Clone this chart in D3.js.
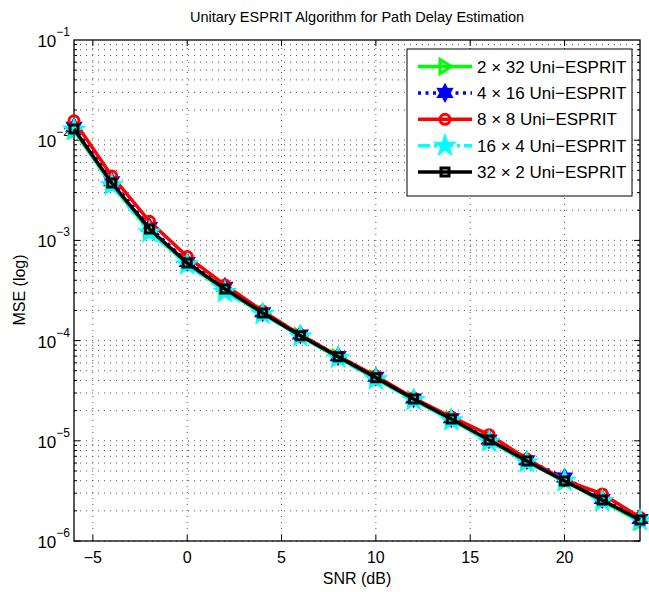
<!DOCTYPE html>
<html lang="en">
<head>
<meta charset="UTF-8">
<title>Unitary ESPRIT Algorithm for Path Delay Estimation</title>
<script src="https://cdn.jsdelivr.net/npm/d3@7"></script>
<style>
    body { margin: 0; background: #fff; }
    svg { font-family: "Liberation Sans", Arial, sans-serif; }
    line.grid { stroke: #555; stroke-width: 1; stroke-dasharray: 1, 5; }
    line.tick { stroke: #000; stroke-width: 1; }
    path.series { fill: none; stroke-width: 3.5; stroke-linejoin: round; }
</style>
</head>
<body>
<svg width="649" height="592"></svg>
<script>
    var snr = [-6, -4, -2, 0, 2, 4, 6, 8, 10, 12, 14, 16, 18, 20, 22, 24];
    var mse2x32 = [1.25e-2, 3.62e-3, 1.26e-3, 5.8e-4, 3.2e-4, 1.86e-4, 1.11e-4, 6.8e-5, 4.2e-5, 2.57e-5, 1.62e-5, 1.0e-5, 6.2e-6, 3.95e-6, 2.5e-6, 1.56e-6];
    var mse4x16 = [1.36e-2, 3.9e-3, 1.36e-3, 6.1e-4, 3.45e-4, 1.92e-4, 1.15e-4, 7.0e-5, 4.35e-5, 2.64e-5, 1.68e-5, 1.03e-5, 6.4e-6, 4.3e-6, 2.62e-6, 1.66e-6];
    var mse8x8 = [1.56e-2, 4.4e-3, 1.55e-3, 6.9e-4, 3.59e-4, 1.97e-4, 1.14e-4, 7.0e-5, 4.43e-5, 2.67e-5, 1.73e-5, 1.15e-5, 6.58e-6, 4.06e-6, 2.95e-6, 1.72e-6];
    var mse16x4 = [1.27e-2, 3.55e-3, 1.2e-3, 5.75e-4, 3.05e-4, 1.84e-4, 1.1e-4, 6.7e-5, 4.1e-5, 2.55e-5, 1.6e-5, 9.8e-6, 6.1e-6, 4.0e-6, 2.5e-6, 1.6e-6];
    var mse32x2 = [1.29e-2, 3.74e-3, 1.3e-3, 5.95e-4, 3.27e-4, 1.89e-4, 1.12e-4, 6.9e-5, 4.27e-5, 2.61e-5, 1.65e-5, 1.02e-5, 6.29e-6, 3.97e-6, 2.56e-6, 1.62e-6];

    var seriesNames = ["2 \u00d7 32 Uni\u2212ESPRIT", "4 \u00d7 16 Uni\u2212ESPRIT", "8 \u00d7 8 Uni\u2212ESPRIT", "16 \u00d7 4 Uni\u2212ESPRIT", "32 \u00d7 2 Uni\u2212ESPRIT"];
    var xTicks = [-5, 0, 5, 10, 15, 20];
    var yExponents = [-6, -5, -4, -3, -2, -1];

    var styles = [
        { color: "#00ff00", dash: null, marker: "triangle" },
        { color: "#0000ff", dash: "3,4.5", marker: "hexagram" },
        { color: "#ff0000", dash: null, marker: "circle" },
        { color: "#00ffff", dash: "12,4,3,4", marker: "pentagram" },
        { color: "#000000", dash: null, marker: "square" }
    ];
    var seriesValues = [mse2x32, mse4x16, mse8x8, mse16x4, mse32x2];

    var plotL = 74, plotR = 640, plotT = 40, plotB = 541;
    var svg = d3.select("svg");

    var xScale = d3.scaleLinear().domain([-6, 24]).range([plotL, plotR]);
    var yScale = d3.scaleLog().domain([1e-6, 1e-1]).range([plotB, plotT]);

    // grid
    var g = svg.append("g");
    xTicks.forEach(function (t) {
        g.append("line").attr("class", "grid")
            .attr("x1", xScale(t)).attr("x2", xScale(t))
            .attr("y1", plotB).attr("y2", plotT);
    });
    var minorVals = [];
    yExponents.slice(0, -1).forEach(function (e) {
        for (var k = 1; k <= 9; k++) minorVals.push({ v: k * Math.pow(10, e), major: k == 1 });
    });
    minorVals.forEach(function (d) {
        var y = yScale(d.v);
        g.append("line").attr("class", "grid")
            .attr("x1", plotL).attr("x2", plotR).attr("y1", y).attr("y2", y);
        var len = d.major ? 6 : 3;
        g.append("line").attr("class", "tick").attr("x1", plotL).attr("x2", plotL + len).attr("y1", y).attr("y2", y);
        g.append("line").attr("class", "tick").attr("x1", plotR).attr("x2", plotR - len).attr("y1", y).attr("y2", y);
    });
    xTicks.forEach(function (t) {
        var x = xScale(t);
        g.append("line").attr("class", "tick").attr("x1", x).attr("x2", x).attr("y1", plotB).attr("y2", plotB - 6);
        g.append("line").attr("class", "tick").attr("x1", x).attr("x2", x).attr("y1", plotT).attr("y2", plotT + 6);
    });

    // frame
    svg.append("rect").attr("x", plotL).attr("y", plotT)
        .attr("width", plotR - plotL).attr("height", plotB - plotT)
        .attr("fill", "none").attr("stroke", "#000").attr("stroke-width", 1.3);

    // tick labels
    xTicks.forEach(function (t) {
        svg.append("text").attr("x", xScale(t)).attr("y", 563)
            .attr("text-anchor", "middle").attr("font-size", 16)
            .text(t < 0 ? "\u2212" + Math.abs(t) : t);
    });
    yExponents.forEach(function (e) {
        var txt = svg.append("text").attr("x", 70).attr("y", yScale(Math.pow(10, e)) + 7)
            .attr("text-anchor", "end").attr("font-size", 17);
        txt.append("tspan").text("10");
        txt.append("tspan").attr("dy", -11).attr("font-size", 12).text("\u2212" + Math.abs(e));
    });

    svg.append("text").attr("x", (plotL + plotR) / 2).attr("y", 584)
        .attr("text-anchor", "middle").attr("font-size", 16).text("SNR (dB)");
    svg.append("text").attr("transform", "translate(25,290) rotate(-90)")
        .attr("text-anchor", "middle").attr("font-size", 16).text("MSE (log)");
    svg.append("text").attr("x", (plotL + plotR) / 2).attr("y", 22)
        .attr("text-anchor", "middle").attr("font-size", 14.5)
        .text("Unitary ESPRIT Algorithm for Path Delay Estimation");

    function starPath(n, R, r) {
        var pts = [];
        for (var i = 0; i < 2 * n; i++) {
            var a = -Math.PI / 2 + i * Math.PI / n;
            var rad = i % 2 == 0 ? R : r;
            pts.push([rad * Math.cos(a), rad * Math.sin(a)]);
        }
        return "M" + pts.map(function (p) { return p[0].toFixed(2) + "," + p[1].toFixed(2); }).join("L") + "Z";
    }
    var markerPaths = {
        triangle: "M6.5,0L-5,-7L-5,7Z",
        hexagram: starPath(6, 7, 4),
        circle: "M5,0A5,5 0 1,1 -5,0A5,5 0 1,1 5,0Z",
        pentagram: starPath(5, 10, 4),
        square: "M-4,-4L4,-4L4,4L-4,4Z"
    };
    var markerFill = { triangle: false, hexagram: true, circle: false, pentagram: true, square: false };

    function drawMarker(sel, st, x, y) {
        sel.append("path").attr("d", markerPaths[st.marker])
            .attr("transform", "translate(" + x + "," + y + ")")
            .attr("fill", markerFill[st.marker] ? st.color : "none")
            .attr("stroke", st.color).attr("stroke-width", st.marker == "pentagram" ? 2 : 3)
            .attr("stroke-linejoin", "miter");
    }

    var line = d3.line()
        .x(function (d) { return xScale(d[0]); })
        .y(function (d) { return yScale(d[1]); });

    seriesValues.forEach(function (vals, i) {
        var st = styles[i];
        var pts = snr.map(function (x, j) { return [x, vals[j]]; });
        var sg = svg.append("g");
        sg.append("path").attr("class", "series").attr("d", line(pts))
            .attr("stroke", st.color).attr("stroke-dasharray", st.dash);
        pts.forEach(function (p) { drawMarker(sg, st, xScale(p[0]), yScale(p[1])); });
    });

    // legend
    var lg = svg.append("g");
    lg.append("rect").attr("x", 407).attr("y", 49).attr("width", 225).attr("height", 147)
        .attr("fill", "#fff").attr("stroke", "#000").attr("stroke-width", 1);
    seriesNames.forEach(function (name, i) {
        var st = styles[i];
        var y = 66.5 + i * 26.4;
        lg.append("line").attr("x1", 418).attr("x2", 472).attr("y1", y).attr("y2", y)
            .attr("stroke", st.color).attr("stroke-width", 3.5).attr("stroke-dasharray", st.dash);
        drawMarker(lg, st, 445, y);
        lg.append("text").attr("x", 477).attr("y", y + 6).attr("font-size", 17).text(name);
    });
</script>
</body>
</html>
